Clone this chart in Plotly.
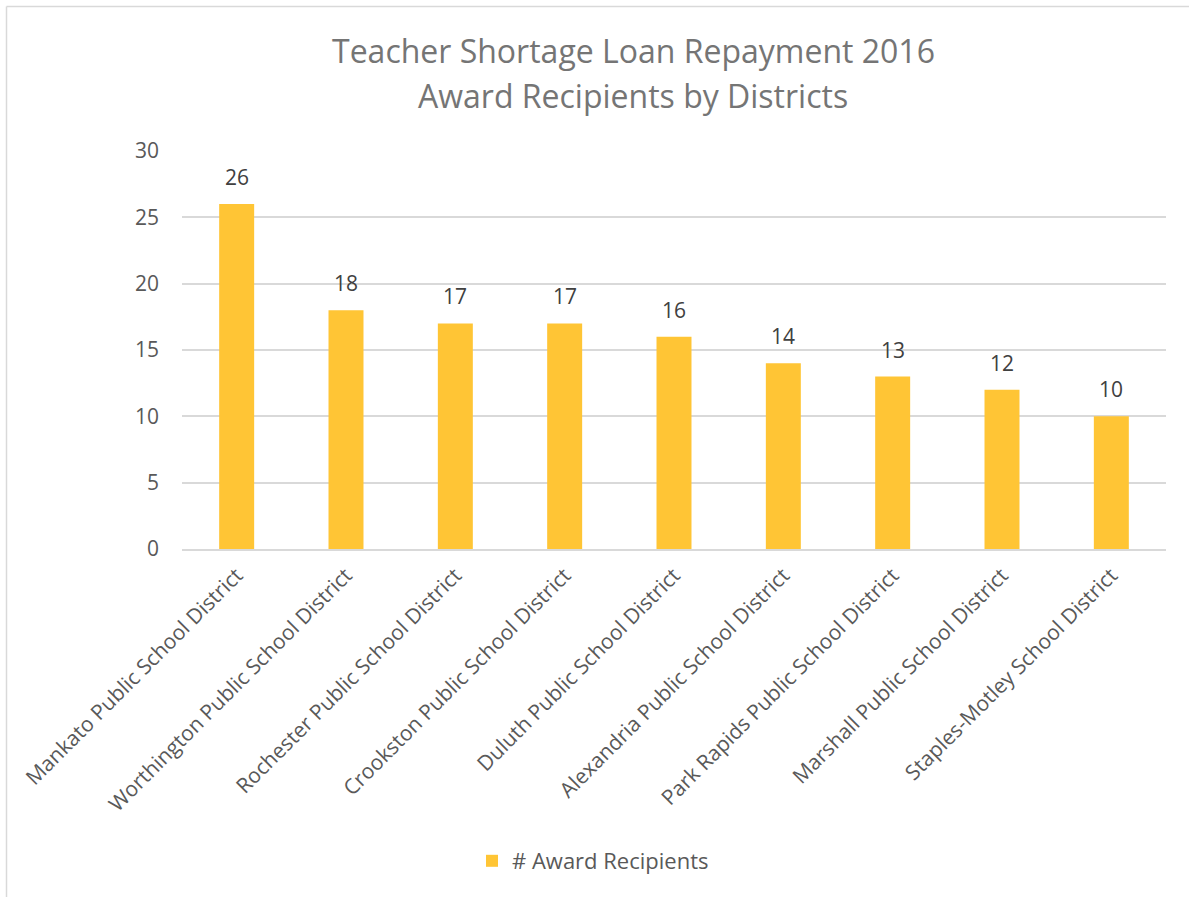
import plotly.graph_objects as go

districts = [
    "Mankato Public School District",
    "Worthington Public School District",
    "Rochester Public School District",
    "Crookston Public School District",
    "Duluth Public School District",
    "Alexandria Public School District",
    "Park Rapids Public School District",
    "Marshall Public School District",
    "Staples-Motley School District",
]
recipients = [26, 18, 17, 17, 16, 14, 13, 12, 10]
series_name = "# Award Recipients"
title_lines = ["Teacher Shortage Loan Repayment 2016", "Award Recipients by Districts"]
y_ticks = [0, 5, 10, 15, 20, 25, 30]

W, H = 1189, 897
L, R, T, B = 182, 23, 151, 348
pw = W - L - R
ph = H - T - B

FONT = "Open Sans"


def px_x(p):
    return (p - L) / pw


def px_y(p):
    return (H - B - p) / ph


fig = go.Figure()
fig.add_trace(go.Bar(
    x=districts,
    y=recipients,
    name=series_name,
    marker=dict(color="#FFC535", line=dict(width=0)),
))

annotations = []
for d, v in zip(districts, recipients):
    annotations.append(dict(
        x=d, y=v, xref="x", yref="y",
        text=str(v), showarrow=False,
        yanchor="bottom", yshift=11,
        font=dict(family=FONT, size=21, color="#404040"),
    ))
for line, cy in zip(title_lines, [50, 95]):
    annotations.append(dict(
        x=px_x(633), y=px_y(cy), xref="paper", yref="paper",
        xanchor="center", yanchor="middle",
        text=line, showarrow=False,
        font=dict(family=FONT, size=32, color="#757575"),
    ))

fig.update_layout(
    width=W, height=H,
    margin=dict(l=L, r=R, t=T, b=B, autoexpand=False),
    paper_bgcolor="white",
    plot_bgcolor="white",
    bargap=0.68,
    xaxis=dict(
        tickangle=-45,
        tickfont=dict(family=FONT, size=21, color="#595959"),
        showgrid=False,
        showline=True, linecolor="#D9D9D9", linewidth=1.5,
        ticks="", ticklabelstandoff=4,
    ),
    yaxis=dict(
        range=[0, 30],
        tickvals=y_ticks,
        tickfont=dict(family=FONT, size=21, color="#595959"),
        showgrid=True, gridcolor="#D9D9D9", gridwidth=1.5,
        zeroline=False, showline=False,
        ticks="", ticklabelstandoff=22,
    ),
    showlegend=True,
    legend=dict(
        orientation="h",
        x=px_x(472), xanchor="left",
        y=px_y(861), yanchor="middle",
        font=dict(family=FONT, size=22, color="#595959"),
        itemwidth=30,
    ),
    annotations=annotations,
    shapes=[
        dict(type="line", xref="paper", yref="paper",
             x0=px_x(6.5), x1=px_x(1200), y0=px_y(6.5), y1=px_y(6.5),
             line=dict(color="#D9D9D9", width=1.5)),
        dict(type="line", xref="paper", yref="paper",
             x0=px_x(6.5), x1=px_x(6.5), y0=px_y(6.5), y1=px_y(900),
             line=dict(color="#D9D9D9", width=1.5)),
    ],
)

fig.write_html("out.html")
